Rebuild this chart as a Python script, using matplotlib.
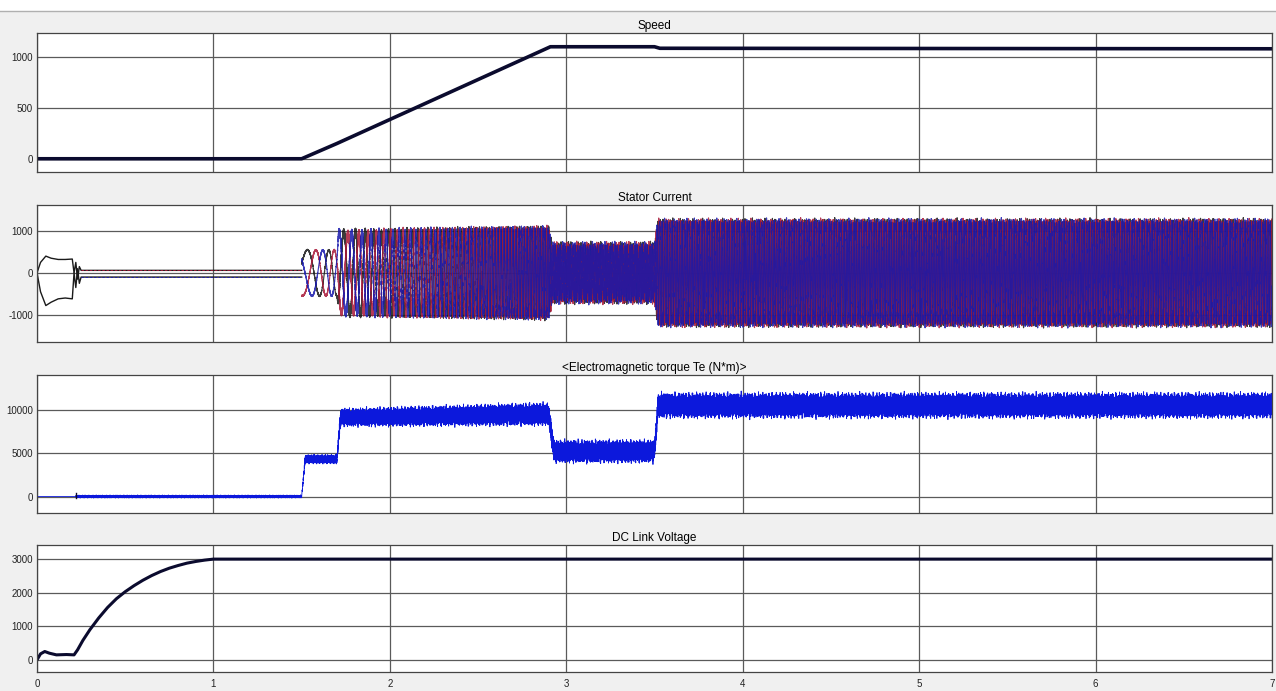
import numpy as np
import matplotlib.pyplot as plt
from matplotlib.patches import Rectangle
from matplotlib.lines import Line2D

plt.rcParams['font.family'] = ['Liberation Sans', 'DejaVu Sans']
plt.rcParams['axes.unicode_minus'] = False

# Rotor speed (rpm)
speed_t = [0, 1.5, 1.7, 2.91, 3.5, 3.53, 7.0]
speed_v = [0, 0, 150, 1100, 1100, 1085, 1080]

# Stator current: start-up transient of two phases before the drive starts (A)
start_t = [0, 0.02, 0.05, 0.08, 0.12, 0.16, 0.2, 0.21, 0.22, 0.23, 0.24, 0.25, 0.27, 1.5]
start_a = [0, 250, 400, 350, 320, 320, 330, 0, 250, -150, 150, 60, 60, 60]
start_b = [0, -450, -780, -700, -620, -600, -620, 0, -350, 100, -250, -100, -100, -100]

# Stator current envelope and electrical frequency once the drive runs
cur_t = [1.5, 1.7, 1.71, 2.9, 2.92, 3.5, 3.52, 7.0]
cur_amp = [550, 550, 980, 1000, 560, 560, 1150, 1150]
cur_freq = [5, 12, 12, 71, 71, 71, 71, 70]
cur_ripple = [0.02, 0.02, 0.06, 0.1, 0.25, 0.25, 0.1, 0.1]

# Electromagnetic torque level and ripple half-width (N*m)
tq_t = [0, 0.22, 0.221, 1.5, 1.52, 1.7, 1.72, 2.9, 2.93, 3.5, 3.52, 7.0]
tq_level = [0, 0, 0, 0, 4300, 4300, 9100, 9500, 5200, 5200, 10500, 10500]
tq_ripple = [0, 0, 120, 120, 380, 380, 750, 950, 950, 950, 1050, 1050]

# DC link voltage (V)
dc_t = [0, 0.02, 0.044, 0.07, 0.11, 0.167, 0.21, 0.23, 0.26, 0.30, 0.35, 0.40,
        0.45, 0.50, 0.55, 0.60, 0.65, 0.70, 0.75, 0.80, 0.85, 0.90, 0.95, 1.0, 7.0]
dc_v = [0, 180, 250, 200, 150, 160, 150, 300, 580, 900, 1250, 1560,
        1820, 2030, 2210, 2370, 2510, 2630, 2730, 2810, 2880, 2930, 2970, 3000, 3000]

phase_colors = ['#181818', '#a81838', '#1818ac']
line_dark = '#0b0b2e'
grid_col = '#5a5a5a'

fig = plt.figure(figsize=(12.76, 6.91), dpi=100, facecolor='#f0f0f0')
fig.patches.append(Rectangle((0, 1 - 11 / 691), 1, 11 / 691, transform=fig.transFigure,
                             facecolor='white', edgecolor='none', zorder=0))
fig.lines.append(Line2D([0, 1], [1 - 11 / 691, 1 - 11 / 691], transform=fig.transFigure,
                        color='#b0b0b0', lw=1))

left, width = 37 / 1276, (1272 - 37) / 1276
boxes = [(33, 172), (205, 342), (375, 513), (545, 672)]
axes = []
for top, bot in boxes:
    ax = fig.add_axes([left, 1 - bot / 691, width, (bot - top) / 691])
    ax.set_facecolor('white')
    ax.set_xlim(0, 7)
    ax.set_xticks(range(8))
    ax.grid(True, color=grid_col, lw=0.9)
    ax.set_axisbelow(True)
    ax.tick_params(length=0, labelsize=7, pad=3, colors='#222222')
    for s in ax.spines.values():
        s.set_color('#444444')
        s.set_linewidth(0.9)
    axes.append(ax)

for ax in axes[:3]:
    ax.tick_params(labelbottom=False)

# Speed
ax = axes[0]
ax.plot(speed_t, speed_v, color=line_dark, lw=2.6)
ax.set_ylim(-130, 1235)
ax.set_yticks([0, 500, 1000])
ax.set_title('Speed', fontsize=8.5, pad=3)

# Stator current: three phases with PWM ripple
ax = axes[1]
t = np.linspace(1.5, 7.0, 60000)
amp = np.interp(t, cur_t, cur_amp)
rip = np.interp(t, cur_t, cur_ripple) * amp
theta = 2 * np.pi * np.cumsum(np.interp(t, cur_t, cur_freq)) * (t[1] - t[0])
for k, col in enumerate(phase_colors):
    ph = k * 2 * np.pi / 3
    pwm = (np.sin(2 * np.pi * 1130 * t + ph) + 0.6 * np.sin(2 * np.pi * 2710 * t + 2 * ph)
           + 0.5 * np.sin(2 * np.pi * 17.3 * t + ph)) / 1.4
    ax.plot(t, amp * np.sin(theta - ph + 0.4) + rip * pwm, color=col, lw=0.85, alpha=0.85)
ax.plot(start_t, start_a, color='#1a1a1a', lw=1.0)
ax.plot(start_t, start_b, color='#1a1a1a', lw=1.0)
ax.plot(start_t[11:], [v + 15 for v in start_a[11:]], color=phase_colors[1], lw=0.6, ls=(0, (3, 2)))
ax.plot(start_t[11:], [v - 10 for v in start_b[11:]], color=phase_colors[2], lw=0.6, ls=(0, (3, 2)))
ax.set_ylim(-1650, 1620)
ax.set_yticks([-1000, 0, 1000])
ax.set_title('Stator Current', fontsize=8.5, pad=3)

# Electromagnetic torque
ax = axes[2]
tt = np.linspace(0, 7, 40000)
ripple = (np.sin(2 * np.pi * 317 * tt) + 0.7 * np.sin(2 * np.pi * 911 * tt + 1.0)
          + 0.5 * np.sin(2 * np.pi * 2203 * tt + 2.0) + 0.35 * np.sin(2 * np.pi * 5171 * tt + 0.5)) / 1.6
te = np.interp(tt, tq_t, tq_level) + np.interp(tt, tq_t, tq_ripple) * ripple
ax.plot(tt, te, color='#0c18dc', lw=0.6)
ax.plot([0.22, 0.22], [-200, 350], color=line_dark, lw=1.0)
ax.set_ylim(-1900, 14000)
ax.set_yticks([0, 5000, 10000])
ax.set_title('<Electromagnetic torque Te (N*m)>', fontsize=8.5, pad=3)

# DC link voltage
ax = axes[3]
ax.plot(dc_t, dc_v, color=line_dark, lw=2.2)
ax.set_ylim(-360, 3420)
ax.set_yticks([0, 1000, 2000, 3000])
ax.set_title('DC Link Voltage', fontsize=8.5, pad=3)
ax.tick_params(axis='x', pad=5)

fig.savefig('out.png', dpi=100, facecolor=fig.get_facecolor())
